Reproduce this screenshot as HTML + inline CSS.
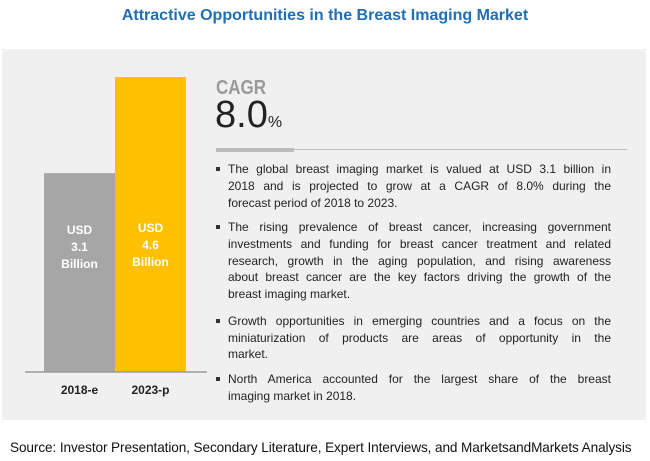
<!DOCTYPE html>
<html><head><meta charset="utf-8">
<style>
body{margin:0;width:650px;height:461px;background:#fff;font-family:"Liberation Sans",sans-serif;position:relative;overflow:hidden}
.abs{position:absolute}
#title{left:0;width:650px;top:7px;text-align:center;color:#1f6fb5;font-weight:bold;font-size:16px}
#panel{left:2px;top:49px;width:644px;height:371px;background:#f0f0f0}
.ln{position:absolute;left:228px;width:383px;font-size:12px;color:#222;text-align:justify;text-align-last:justify;white-space:nowrap;line-height:17px}
.ln.last{text-align-last:left}
.bl{position:absolute;left:216px;width:4px;height:4px;background:#333}
#source{left:10px;top:440px;font-size:13.6px;color:#111;letter-spacing:-0.1px}
</style></head><body>
<div id="title" class="abs">Attractive Opportunities in the Breast Imaging Market</div>
<div id="panel" class="abs"></div>
<svg class="abs" style="left:0;top:0" width="650" height="461" id="chart"></svg>
<div class="abs" style="left:216px;top:77px;font-size:20px;color:#999;font-weight:bold;transform:scaleX(0.85);transform-origin:left">CAGR</div>
<div class="abs" style="left:215px;top:94px;font-size:38px;color:#222">8.0<span style="font-size:16px">%</span></div>
<div class="abs" style="left:216px;top:149px;width:411px;height:1px;background:#bbb"></div>
<div class="abs" style="left:216px;top:148px;width:78px;height:4px;background:#bbb"></div>
<div id="bullets">
<div class="bl" style="top:167px"></div>
<div class="ln" style="top:161px">The global breast imaging market is valued at USD 3.1 billion in</div>
<div class="ln" style="top:178px">2018 and is projected to grow at a CAGR of 8.0% during the</div>
<div class="ln last" style="top:195px">forecast period of 2018 to 2023.</div>
<div class="bl" style="top:225px"></div>
<div class="ln" style="top:219px">The rising prevalence of breast cancer, increasing government</div>
<div class="ln" style="top:236px">investments and funding for breast cancer treatment and related</div>
<div class="ln" style="top:253px">research, growth in the aging population, and rising awareness</div>
<div class="ln" style="top:269px">about breast cancer are the key factors driving the growth of the</div>
<div class="ln last" style="top:286px">breast imaging market.</div>
<div class="bl" style="top:319px"></div>
<div class="ln" style="top:313px">Growth opportunities in emerging countries and a focus on the</div>
<div class="ln" style="top:330px">miniaturization of products are areas of opportunity in the</div>
<div class="ln last" style="top:346px">market.</div>
<div class="bl" style="top:377px"></div>
<div class="ln" style="top:371px">North America accounted for the largest share of the breast</div>
<div class="ln last" style="top:388px">imaging market in 2018.</div>
</div>
<div id="source" class="abs">Source: Investor Presentation, Secondary Literature, Expert Interviews, and MarketsandMarkets Analysis</div>
<script>
const categories=["2018-e","2023-p"];
const values=[3.1,4.6];
const valueLabels=[["USD","3.1","Billion"],["USD","4.6","Billion"]];
const colors=["#a6a6a6","#ffc000"];
const svg=document.getElementById('chart');
const NS="http://www.w3.org/2000/svg";
const baseY=372, scale=295/4.6, x0=44, bw=71;
function y(v){return baseY-v*scale;}
function x(i){return x0+i*bw;}
values.forEach((v,i)=>{
  const r=document.createElementNS(NS,'rect');
  r.setAttribute('x',x(i));r.setAttribute('y',y(v));
  r.setAttribute('width',bw);r.setAttribute('height',baseY-y(v));
  r.setAttribute('fill',colors[i]);
  
  
  svg.appendChild(r);
  valueLabels[i].forEach((s,j)=>{
    const t=document.createElementNS(NS,'text');
    t.setAttribute('x',x(i)+bw/2);t.setAttribute('y',(i?232:234)+j*17);
    t.setAttribute('text-anchor','middle');t.setAttribute('font-size','12');
    t.setAttribute('font-weight','bold');t.setAttribute('fill','#fff');
    t.setAttribute('font-family','Liberation Sans Narrow, Liberation Sans, sans-serif');
    t.textContent=s;
    
    
    svg.appendChild(t);
  });
  const c=document.createElementNS(NS,'text');
  c.setAttribute('x',x(i)+bw/2);c.setAttribute('y',394);
  c.setAttribute('text-anchor','middle');c.setAttribute('font-size','12');
  c.setAttribute('font-weight','bold');c.setAttribute('fill','#222');
  c.setAttribute('font-family','Liberation Sans, sans-serif');
  c.textContent=categories[i];
  
  
  svg.appendChild(c);
});
const ax=document.createElementNS(NS,'line');
ax.setAttribute('x1',25);ax.setAttribute('x2',207);ax.setAttribute('y1',baseY);ax.setAttribute('y2',baseY);
ax.setAttribute('stroke','#999');ax.setAttribute('stroke-width','1.5');


svg.appendChild(ax);
</script>
</body></html>
